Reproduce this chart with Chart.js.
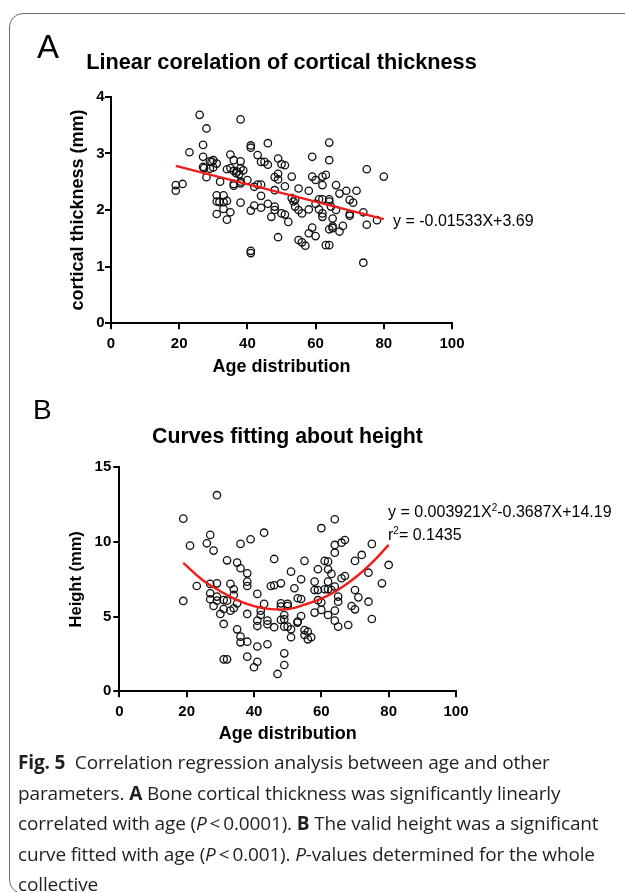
<!DOCTYPE html>
<html>
<head>
<meta charset="utf-8">
<title>Fig. 5</title>
<script src="https://cdn.jsdelivr.net/npm/chart.js@4.4.1/dist/chart.umd.min.js"></script>
<style>
  body { margin: 0; background: #fff; }
  #page { position: relative; width: 625px; height: 892px; overflow: hidden; background: #fff; }
  .frame { position: absolute; left: 9px; top: 13px; width: 660px; height: 879px;
           border: 1.5px solid #6b6b6b; border-radius: 14px 0 0 14px; }
  canvas { position: absolute; left: 0; }
  .letter { position: absolute; font-family: 'Liberation Sans', Arial, sans-serif; line-height: 1; color: #000; }
  .eq { position: absolute; font-family: 'Liberation Sans', Arial, sans-serif; font-size: 16px; line-height: 1; color: #000; white-space: nowrap; }
  .eq sup { font-size: 10px; vertical-align: 6px; line-height: 0; }
  .caption { position: absolute; left: 18px; top: 747px; width: 600px; font-family: 'Open Sans', 'Noto Sans', sans-serif;
             font-size: 19px; line-height: 30.6px; letter-spacing: -0.15px; color: #231f20; white-space: nowrap; }
</style>
</head>
<body>
<div id="page">
  <div class="frame"></div>

  <canvas id="chartA" width="563" height="385" style="top:0"></canvas>
  <div class="letter" style="left:37px; top:30px; font-size:33px;">A</div>
  <div class="eq" style="left:393px; top:213px;">y = -0.01533X+3.69</div>

  <canvas id="chartB" width="575" height="365" style="top:385px"></canvas>
  <div class="letter" style="left:33px; top:396px; font-size:28px;">B</div>
  <div class="eq" style="left:388px; top:504px;">y = 0.003921X<sup>2</sup>-0.3687X+14.19</div>
  <div class="eq" style="left:388px; top:527px;">r<sup>2</sup>= 0.1435</div>

  <div class="caption">
    <b>Fig. 5</b>&nbsp; Correlation regression analysis between age and other<br>
    parameters. <b>A</b> Bone cortical thickness was significantly linearly<br>
    correlated with age (<i>P</i>&thinsp;&lt;&thinsp;0.0001). <b>B</b> The valid height was a significant<br>
    curve fitted with age (<i>P</i>&thinsp;&lt;&thinsp;0.001). <i>P</i>-values determined for the whole<br>
    collective
  </div>
</div>

<script>
// ---- A: cortical thickness vs age ----
const edadA = [19, 19, 21, 23, 26, 27, 28, 27, 27, 27.3, 29, 29.5, 30, 28, 30, 31, 29, 32, 31, 33,
  31, 31.8, 33, 34, 31, 33, 35, 34, 35, 34, 35, 36, 36.7, 36, 36, 36, 37, 38, 38, 38,
  38.8, 37.6, 38, 38, 38, 40, 41, 41, 41, 41, 41, 42, 42, 43, 43, 44, 44, 44, 44, 45,
  46, 46, 46, 47, 48, 48, 48, 48, 49, 49, 49, 49, 50, 50, 51, 51, 51, 52, 53, 53,
  53.5, 54, 54, 55, 55, 55, 56, 56, 57, 58, 58, 58, 59, 59, 59, 60, 60, 60, 61, 61,
  62, 62, 62, 62, 62, 63, 63, 64, 64, 64, 64, 64, 64, 64.5, 65, 65, 65, 66, 66, 67,
  67, 68, 69, 70, 70, 70, 71, 72, 74, 74, 75, 75, 78, 80];
const grosorA = [2.44, 2.34, 2.46, 3.02, 3.68, 3.15, 3.44, 2.94, 2.76, 2.74, 2.86, 2.85, 2.88, 2.58, 2.75, 2.82, 2.73, 2.50, 2.26, 2.26,
  2.15, 2.14, 2.14, 2.16, 1.93, 2.02, 1.96, 1.83, 2.98, 2.72, 2.74, 2.69, 2.65, 2.88, 2.46, 2.43, 2.68, 3.60, 2.86, 2.74,
  2.70, 2.63, 2.50, 2.47, 2.13, 2.53, 3.14, 3.10, 1.99, 1.28, 1.24, 2.41, 2.08, 2.97, 2.45, 2.45, 2.25, 2.04, 2.85, 2.85,
  3.18, 2.80, 2.11, 1.88, 2.35, 2.58, 2.06, 2.00, 2.91, 2.64, 2.54, 1.52, 2.81, 1.94, 2.79, 2.42, 1.92, 1.79, 2.59, 2.21,
  2.15, 2.18, 2.06, 2.38, 2.00, 1.47, 1.94, 1.43, 1.37, 2.34, 2.01, 1.59, 2.94, 2.59, 1.69, 2.53, 2.11, 1.54, 2.19, 2.01,
  2.59, 2.44, 2.19, 1.94, 1.88, 2.62, 1.38, 3.19, 2.88, 2.19, 2.15, 1.66, 1.38, 2.06, 1.85, 1.71, 1.68, 2.44, 2.00, 2.29,
  1.62, 1.72, 2.34, 2.18, 1.93, 1.90, 2.13, 2.34, 1.96, 1.07, 2.72, 1.74, 1.82, 2.59];
// recta de regresion tal como aparece dibujada
const rectaEdadA = [19, 80];
const rectaGrosorA = [2.78, 1.84];

// ---- B: height vs age ----
const edadB = [19, 19, 21, 23, 26, 27, 28, 29, 27, 27, 27, 28, 29, 29, 29, 30, 31, 31, 31, 31,
  32, 32, 32, 33, 33, 34, 34, 34, 35, 35, 36, 36, 35, 36, 36, 38, 38, 38, 38, 38,
  38, 39, 40, 41, 41, 41, 41, 41, 42, 42, 43, 43, 44, 44, 44, 46, 45, 46, 46, 48,
  48, 48, 48, 49, 49, 49, 49, 49, 47, 50, 50, 50, 51, 51, 51, 52, 53, 53, 52.9, 54,
  54, 54, 55, 55, 55, 56, 57, 56, 58, 58, 58, 59, 59, 59, 60, 60, 60, 61, 61, 62,
  62, 62, 62, 62, 63, 63, 64, 64, 64, 64, 64, 64, 65, 65, 65, 66, 67, 66, 67, 68,
  69, 70, 70, 70, 71, 72, 74, 74, 75, 75, 78, 80];
const alturaB = [11.56, 6.05, 9.75, 7.05, 9.91, 10.47, 9.42, 13.13, 7.19, 6.56, 6.16, 5.71, 7.23, 6.34, 6.07, 5.18, 6.11, 5.51, 4.51, 2.14,
  2.14, 8.77, 6.07, 7.19, 5.40, 6.83, 6.45, 5.56, 5.89, 8.62, 8.24, 9.87, 4.15, 3.66, 3.28, 7.90, 7.34, 7.05, 5.18, 3.32,
  2.32, 10.18, 1.61, 6.52, 4.73, 4.37, 3.00, 1.98, 5.40, 5.11, 5.85, 10.62, 4.73, 4.49, 3.15, 8.86, 7.05, 7.10, 4.29, 7.23,
  5.89, 5.67, 4.78, 5.11, 4.82, 4.33, 2.54, 1.76, 1.16, 5.85, 5.71, 4.33, 4.15, 3.62, 8.01, 6.90, 6.23, 4.67, 4.60, 7.50,
  6.18, 5.04, 8.73, 3.77, 4.10, 3.99, 3.62, 3.48, 7.34, 6.78, 5.27, 8.17, 6.78, 6.10, 5.94, 10.92, 5.45, 8.73, 6.83, 8.68,
  8.17, 7.34, 6.83, 5.11, 7.86, 6.78, 11.52, 9.80, 9.28, 7.01, 4.73, 5.40, 6.34, 6.00, 4.33, 7.57, 7.72, 9.95, 10.13, 4.44,
  5.71, 8.73, 6.78, 5.49, 6.29, 9.13, 7.94, 6.00, 9.87, 4.84, 7.23, 8.46];
// curva cuadratica
const curvaEdadB = [19, 25, 30, 35, 40, 45, 50, 55, 60, 65, 70, 75, 80];
const curvaAlturaB = [8.6, 7.4, 6.7, 6.1, 5.7, 5.5, 5.5, 5.8, 6.2, 6.8, 7.6, 8.6, 9.8];

const ticksX = [0, 20, 40, 60, 80, 100];
const ticksYA = [0, 1, 2, 3, 4];
const ticksYB = [0, 5, 10, 15];

const FUENTE = "'Liberation Sans', Arial, sans-serif";
const ROJO = "rgb(240, 28, 28)";

function puntos(xs, ys) {
  return xs.map((x, i) => ({ x: x, y: ys[i] }));
}

function ejeX(alto, titulo) {
  return {
    type: "linear",
    min: ticksX[0],
    max: ticksX[ticksX.length - 1],
    afterBuildTicks: s => { s.ticks = ticksX.map(v => ({ value: v })); },
    ticks: { color: "#000", padding: 5.7, font: { family: FUENTE, size: 15, weight: "bold" } },
    grid: { drawOnChartArea: false, color: "#000", lineWidth: 2, tickLength: 6 },
    border: { color: "#000", width: 2 },
    title: { display: true, text: titulo, color: "#000", padding: { top: 0, bottom: alto.tituloAbajo },
             font: { family: FUENTE, size: 18, weight: "bold" } },
    afterFit: s => { s.height = alto.eje; }
  };
}

function ejeY(ticks, ancho, titulo, tamTitulo, padTick) {
  return {
    type: "linear",
    min: ticks[0],
    max: ticks[ticks.length - 1],
    afterBuildTicks: s => { s.ticks = ticks.map(v => ({ value: v })); },
    ticks: { color: "#000", padding: padTick, font: { family: FUENTE, size: 15, weight: "bold" } },
    grid: { drawOnChartArea: false, color: "#000", lineWidth: 2, tickLength: 6 },
    border: { color: "#000", width: 2 },
    title: { display: true, text: titulo, color: "#000", padding: { top: ancho.tituloIzq, bottom: 0 },
             font: { family: FUENTE, size: tamTitulo, weight: "bold" } },
    afterFit: s => { s.width = ancho.eje; }
  };
}

// eje vacio a la derecha: deja el margen sin descentrar el titulo
function ejeHueco(ancho) {
  return {
    type: "linear",
    position: "right",
    ticks: { display: false },
    grid: { display: false },
    border: { display: false },
    afterFit: s => { s.width = ancho; }
  };
}

function grafico(id, cfg) {
  new Chart(document.getElementById(id), {
    type: "scatter",
    data: {
      datasets: [
        {
          label: "ajuste",
          data: puntos(cfg.lineaX, cfg.lineaY),
          showLine: true,
          borderColor: ROJO,
          borderWidth: 2.4,
          pointRadius: 0,
          tension: cfg.tension,
          fill: false,
          order: 0
        },
        {
          label: "datos",
          data: puntos(cfg.xs, cfg.ys),
          pointRadius: 3.7,
          pointBorderWidth: 1.3,
          pointBorderColor: "#111",
          pointBackgroundColor: "rgba(0,0,0,0)",
          order: 1
        }
      ]
    },
    options: {
      responsive: false,
      animation: false,
      layout: { padding: 0 },
      plugins: {
        legend: { display: false },
        tooltip: { enabled: false },
        title: {
          display: true,
          text: cfg.titulo,
          color: "#000",
          font: { family: FUENTE, size: cfg.tamTitulo, weight: "bold" },
          padding: cfg.padTitulo
        }
      },
      scales: {
        x: ejeX(cfg.altoX, "Age distribution"),
        y: ejeY(cfg.ticksY, cfg.anchoY, cfg.tituloY, cfg.tamTituloY, cfg.padTickY),
        hueco: ejeHueco(cfg.derecha)
      }
    }
  });
}

// alto del titulo = tam * 1.2 + padding
grafico("chartA", {
  xs: edadA, ys: grosorA,
  lineaX: rectaEdadA, lineaY: rectaGrosorA, tension: 0,
  titulo: "Linear corelation of cortical thickness", tamTitulo: 21.7,
  padTitulo: { top: 50.5, bottom: 20.2 },
  derecha: 111,
  altoX: { eje: 61.7, tituloAbajo: 7.2 },
  ticksY: ticksYA,
  anchoY: { eje: 111, tituloIzq: 67.5 },
  tituloY: "cortical thickness (mm)", tamTituloY: 18, padTickY: 0.5
});

grafico("chartB", {
  xs: edadB, ys: alturaB,
  lineaX: curvaEdadB, lineaY: curvaAlturaB, tension: 0.4,
  titulo: "Curves fitting about height", tamTitulo: 21.3,
  padTitulo: { top: 39.7, bottom: 17.0 },
  derecha: 119,
  altoX: { eje: 58.7, tituloAbajo: 5.2 },
  ticksY: ticksYB,
  anchoY: { eje: 119.3, tituloIzq: 66.8 },
  tituloY: "Height (mm)", tamTituloY: 16.5, padTickY: 2
});
</script>
</body>
</html>
